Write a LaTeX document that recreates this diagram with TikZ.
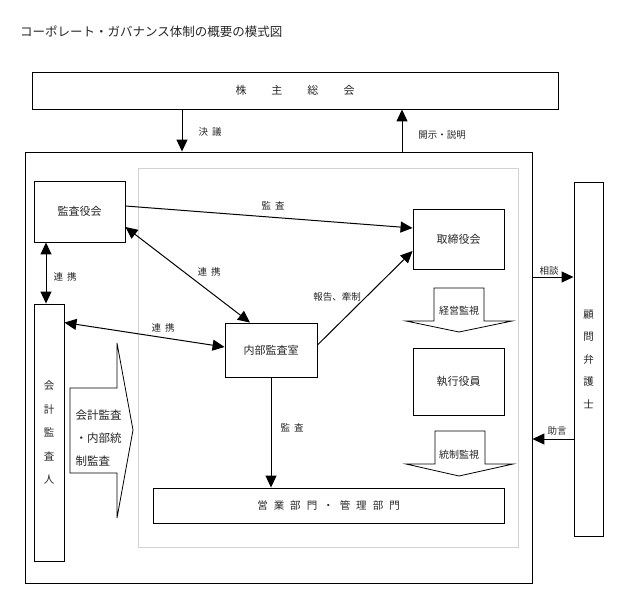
\documentclass[tikz,border=0pt]{standalone}
\usepackage{fontspec}
\newfontfamily\jp{Noto Sans CJK JP}
\usetikzlibrary{arrows.meta}
\newcommand\gap[1]{\hspace{#1pt}}

\begin{document}
\begin{tikzpicture}[x=1pt,y=-1pt,
    box/.style={draw,line width=0.9pt,inner sep=0pt,text=black!85,
      font=\jp\fontsize{11}{13}\selectfont},
    lbl/.style={inner sep=0pt,text=black!85,font=\jp\fontsize{9.5}{11}\selectfont},
    blk/.style={draw,line width=0.8pt,fill=white},
    arr/.style={line width=1pt,-{Triangle[length=12pt,width=11pt]}},
    darr/.style={line width=1pt,{Triangle[length=12pt,width=11pt]}-{Triangle[length=12pt,width=11pt]}}]
  \useasboundingbox (0,0) rectangle (620,600);

  % title
  \node[lbl,anchor=west,font=\jp\fontsize{12.5}{14}\selectfont] (title) at (20,32)
    {コーポレート・ガバナンス体制の概要の模式図};

  % boxes
  \node[box,minimum width=526pt,minimum height=37pt] (kabu) at (295,90.5)
    {株\gap{25}主\gap{25}総\gap{25}会};
  \node[box,minimum width=507pt,minimum height=431pt] (kaisha) at (278.5,367.5) {};
  \draw[gray!35,line width=0.8pt] (138,168) rectangle (518,547);
  \node[box,minimum width=91pt,minimum height=61pt] (kansa) at (79.5,211.5) {監査役会};
  \node[box,minimum width=91pt,minimum height=60pt] (tori) at (458.5,239) {取締役会};
  \node[box,minimum width=92pt,minimum height=54pt] (naibu) at (271,350) {内部監査室};
  \node[box,minimum width=91pt,minimum height=67pt] (shikko) at (458.5,381.5) {執行役員};
  \node[box,minimum width=351pt,minimum height=35pt,font=\jp\fontsize{10.5}{12}\selectfont] (eigyo) at (328.5,505.5)
    {営\gap{6}業\gap{6}部\gap{6}門\gap{6}・\gap{6}管\gap{6}理\gap{6}部\gap{6}門};
  \node[box,minimum width=30pt,minimum height=257pt,align=center,
    font=\jp\fontsize{10.5}{23.5}\selectfont] (kaikei) at (49,432.5)
    {会\\計\\監\\査\\人};
  \node[box,minimum width=29pt,minimum height=354pt,align=center,
    font=\jp\fontsize{10.5}{22.5}\selectfont] (komon) at (588.5,359)
    {顧\\問\\弁\\護\\士};

  % block arrows
  \draw[blk] (434,288) -- (484,288) -- (484,321) -- (512,321) -- (459,332)
    -- (406,321) -- (434,321) -- cycle;
  \node[lbl,font=\jp\fontsize{10}{12}\selectfont] (keiei) at (459,311) {経営監視};
  \draw[blk] (435,431) -- (485,431) -- (485,464) -- (513,464) -- (459,476)
    -- (406,464) -- (435,464) -- cycle;
  \node[lbl,font=\jp\fontsize{10}{12}\selectfont] (tosei) at (459,455) {統制監視};
  \draw[blk] (70,388) -- (117,388) -- (117,343) -- (133,430) -- (117,518)
    -- (117,473) -- (70,473) -- cycle;
  \node[lbl,align=left,font=\jp\fontsize{11.5}{23}\selectfont] (kaikeikansa) at (98.5,438)
    {会計監査\\・内部統\\制監査};

  \coordinate (c1) at (0,277);
  \coordinate (c2) at (0,439);
  \coordinate (c3) at (182,0);
  \coordinate (c4) at (402,0);

  % connectors
  \begin{scope}
    \draw[arr] (kabu.south -| c3) to (kaisha.north -| c3);
    \draw[arr] (kaisha.north -| c4) to (kabu.south -| c4);
    \draw[arr] ([yshift=5.5pt]kansa.east) to ([yshift=11pt]tori.west);
    \draw[darr] ([yshift=-15.5pt]kansa.east) to ([xshift=-21pt]naibu.north);
    \draw[darr] ([xshift=-3pt]kaikei.north) to ([xshift=-3pt]kaikei.north |- kansa.south);
    \draw[darr] ([yshift=-19pt]kaikei.north east) to ([yshift=3pt]naibu.west);
    \draw[arr] ([yshift=5pt]naibu.east) to ([yshift=-12pt]tori.west);
    \draw[arr] (naibu.south) to (naibu.south |- eigyo.north);
    \draw[arr] (kaisha.east |- c1) to (komon.west |- c1);
    \draw[arr] (komon.west |- c2) to (kaisha.east |- c2);
  \end{scope}

  % labels
  \node[lbl] (l1) at (210,132) {決\gap{4}議};
  \node[lbl] (l2) at (442,135) {開示・説明};
  \node[lbl] (l3) at (273,206) {監\gap{4}査};
  \node[lbl] (l4) at (209,272) {連\gap{4}携};
  \node[lbl] (l5) at (65,277) {連\gap{4}携};
  \node[lbl] (l6) at (163,328) {連\gap{4}携};
  \node[lbl] (l7) at (337,297) {報告、牽制};
  \node[lbl] (l8) at (292,428) {監\gap{4}査};
  \node[lbl] (l9) at (549,271) {相談};
  \node[lbl] (l10) at (557,431) {助言};
\end{tikzpicture}
\end{document}
